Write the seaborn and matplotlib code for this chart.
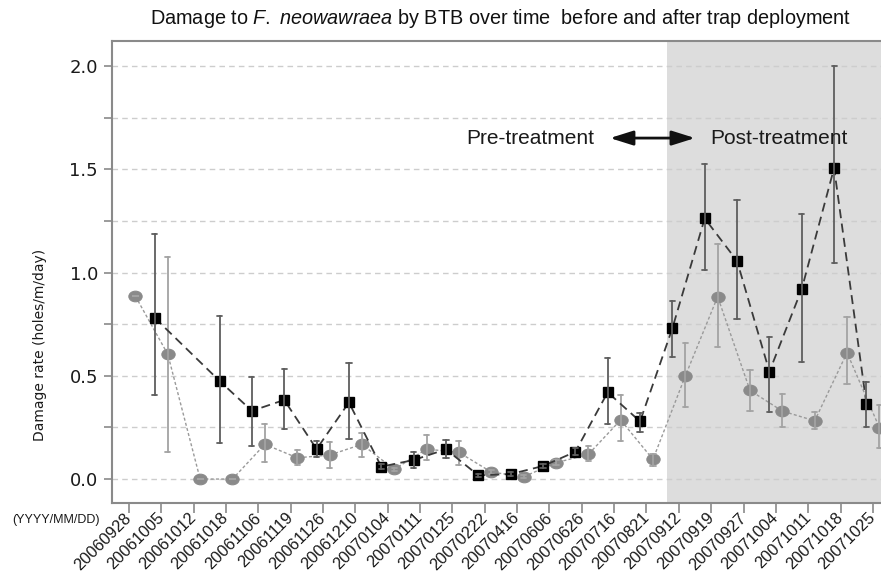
import numpy as np
import pandas as pd
import matplotlib
matplotlib.use("Agg")
import matplotlib.pyplot as plt
import seaborn as sns
from matplotlib.path import Path
from matplotlib.transforms import Affine2D
from matplotlib.ticker import MultipleLocator, FormatStrFormatter

# Sampling dates (YYYYMMDD)
dates = ["20060928", "20061005", "20061012", "20061018", "20061106", "20061119",
         "20061126", "20061210", "20070104", "20070111", "20070125", "20070222",
         "20070416", "20070606", "20070626", "20070716", "20070821", "20070912",
         "20070919", "20070927", "20071004", "20071011", "20071018", "20071025"]

series = ["Set A", "Set B"]

# Set A (squares): mean damage rate with lower / upper error limits
a_mean = [np.nan, 0.78, np.nan, 0.475, 0.33, 0.383, 0.145, 0.371, 0.06, 0.092,
          0.144, 0.018, 0.024, 0.063, 0.132, 0.42, 0.279, 0.73, 1.262, 1.056,
          0.52, 0.92, 1.506, 0.363]
a_low = [np.nan, 0.407, np.nan, 0.173, 0.16, 0.242, 0.108, 0.194, 0.05, 0.055,
         0.10, 0.011, 0.016, 0.053, 0.115, 0.265, 0.226, 0.589, 1.012, 0.773,
         0.323, 0.568, 1.044, 0.253]
a_high = [np.nan, 1.185, np.nan, 0.789, 0.492, 0.531, 0.184, 0.56, 0.072, 0.132,
          0.189, 0.026, 0.032, 0.075, 0.15, 0.584, 0.321, 0.862, 1.525, 1.351,
          0.689, 1.282, 2.0, 0.471]

# Set B (circles)
b_mean = [0.885, 0.604, 0.0, 0.0, 0.168, 0.103, 0.116, 0.168, 0.047, 0.145,
          0.129, 0.034, 0.011, 0.079, 0.119, 0.286, 0.095, 0.499, 0.883, 0.429,
          0.329, 0.282, 0.612, 0.249]
b_low = [0.885, 0.132, 0.0, 0.0, 0.081, 0.068, 0.052, 0.108, 0.04, 0.092,
         0.068, 0.026, 0.005, 0.068, 0.087, 0.186, 0.063, 0.35, 0.638, 0.329,
         0.253, 0.241, 0.46, 0.149]
b_high = [0.885, 1.077, 0.0, 0.0, 0.265, 0.14, 0.181, 0.221, 0.055, 0.212,
          0.184, 0.042, 0.018, 0.09, 0.161, 0.407, 0.12, 0.66, 1.137, 0.528,
          0.41, 0.323, 0.783, 0.358]

sns.set_style("white")
plt.rcParams["font.family"] = ["Liberation Sans", "DejaVu Sans"]
plt.rcParams["mathtext.fontset"] = "custom"
plt.rcParams["mathtext.rm"] = "Liberation Sans"
plt.rcParams["mathtext.it"] = "Liberation Sans:italic"

# Long table: each date contributes low / mean / high so the median is the mean
# and the min-max spread is the error bar.
rows = []
for name, lo, mid, hi in [(series[0], a_low, a_mean, a_high),
                          (series[1], b_low, b_mean, b_high)]:
    for d, l, m, h in zip(dates, lo, mid, hi):
        if np.isnan(m):
            continue
        for v in (l, m, h):
            rows.append({"date": d, "series": name, "rate": v})
df = pd.DataFrame(rows)


def spread(v):
    return v.min(), v.max()


ellipse = Path.unit_circle().transformed(Affine2D().scale(1.0, 0.8))

styles = {
    series[0]: dict(color="#000000", line="#3a3a3a", marker="s",
                    ls=(0, (5, 3)), lw=1.3, ms=7.5, err="#5e5e5e"),
    series[1]: dict(color="#8a8a8a", line="#9a9a9a", marker=ellipse,
                    ls=(0, (2.2, 1.6)), lw=1.0, ms=9.6, err="#a3a3a3"),
}
palette = {n: styles[n]["color"] for n in series}

fig = plt.figure(figsize=(8.81, 5.78), dpi=100)
ax = fig.add_axes([112 / 881, 1 - 503 / 578, 1 - 112 / 881, (503 - 41) / 578])

# Post-treatment period shading
ax.axvspan(16.63, 24, color="#dddddd", zorder=0, lw=0)

for name in [series[1], series[0]]:
    st = styles[name]
    n_before = len(ax.lines)
    sns.pointplot(data=df[df["series"] == name], x="date", y="rate",
                  hue="series", hue_order=series, order=dates, palette=palette,
                  dodge=0.4, markers=st["marker"], linestyles=st["ls"],
                  estimator="median", errorbar=spread, capsize=0.16,
                  err_kws={"color": st["err"], "linewidth": 1.3},
                  linewidth=st["lw"], markersize=st["ms"], legend=False, ax=ax)
    for line in ax.lines[n_before:]:
        if line.get_marker() in (None, "None", "", " "):
            continue
        # join the series line across dates without a value
        x, y = line.get_data()
        x = np.asarray(x, float)
        y = np.asarray(y, float)
        keep = ~np.isnan(y)
        line.set_data(x[keep], y[keep])
        line.set_color(st["line"])
        line.set_markerfacecolor(st["color"])
        line.set_markeredgecolor(st["color"])

ax.set_xlim(-0.525, 23.25)
ax.set_ylim(-0.116, 2.121)
ax.set_xlabel("")
ax.set_ylabel("")

ax.yaxis.set_major_locator(MultipleLocator(0.5))
ax.yaxis.set_minor_locator(MultipleLocator(0.25))
ax.yaxis.set_major_formatter(FormatStrFormatter("%.1f"))
ax.set_axisbelow(True)
ax.grid(axis="y", which="both", linestyle=(0, (4, 3)), color="#cdcdcd", lw=1.0)
ax.grid(axis="x", visible=False)

ax.tick_params(axis="y", which="both", left=True, direction="out", length=6,
               width=1.2, color="#8a8a8a", labelsize=13, labelcolor="#1a1a1a",
               labelfontfamily="DejaVu Sans", pad=4)
ax.tick_params(axis="x", bottom=True, direction="out", length=7, width=1.2,
               color="#8a8a8a", pad=2)
ax.set_xticks(range(len(dates)))
ax.set_xticklabels(dates, rotation=45, ha="right", va="center",
                   rotation_mode="anchor", fontsize=11.8, color="#1a1a1a")

for side in ["left", "top", "bottom"]:
    ax.spines[side].set_color("#8a8a8a")
    ax.spines[side].set_linewidth(1.5)
ax.spines["right"].set_visible(False)

# treatment annotation
y_note = 1.651
ax.text(10.42, y_note, "Pre-treatment", ha="left", va="center", fontsize=15,
        color="#1a1a1a")
ax.text(17.96, y_note, "Post-treatment", ha="left", va="center", fontsize=15,
        color="#1a1a1a")
ax.annotate("", xy=(17.5, y_note), xytext=(14.87, y_note),
            arrowprops=dict(arrowstyle="<|-|>,head_length=0.7,head_width=0.22",
                            mutation_scale=20, color="#111111", lw=2,
                            shrinkA=0, shrinkB=0))

fig.text(501 / 881, 1 - 18 / 578,
         r"Damage to $\mathit{F.\ neowawraea}$ by BTB over time  before and after trap deployment",
         ha="center", va="center", fontsize=14.3, color="#111111")
fig.text(40 / 881, 1 - 345 / 578, "Damage rate (holes/m/day)", rotation=90,
         ha="center", va="center", fontsize=10, family="DejaVu Sans",
         color="#1a1a1a")
fig.text(12 / 881, 1 - 520 / 578, "(YYYY/MM/DD)", ha="left", va="center",
         fontsize=9, color="#1a1a1a")

fig.savefig("out.png", dpi=100)
